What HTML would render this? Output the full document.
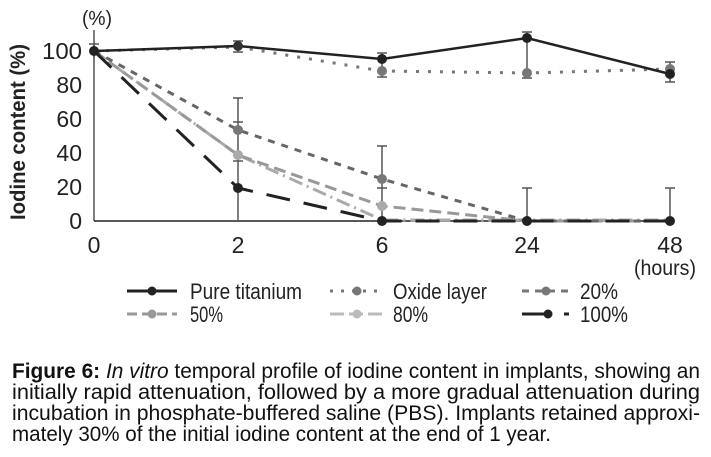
<!DOCTYPE html>
<html><head><meta charset="utf-8"><style>
html,body{margin:0;padding:0;background:#fff;}
svg{display:block;font-family:"Liberation Sans",Arial,sans-serif;}
</style></head><body>
<svg width="711" height="457" viewBox="0 0 711 457" xmlns="http://www.w3.org/2000/svg">
<rect width="711" height="457" fill="#fff"/>
<line x1="94" y1="30" x2="94" y2="221" stroke="#555" stroke-width="1.5"/>
<line x1="94" y1="221" x2="672" y2="221" stroke="#222" stroke-width="1.5"/>
<text x="97" y="25" font-size="20" text-anchor="middle" fill="#222" textLength="30" lengthAdjust="spacingAndGlyphs">(%)</text>
<g font-size="23" text-anchor="end" fill="#222">
<text x="82" y="59" textLength="40" lengthAdjust="spacingAndGlyphs">100</text><text x="82" y="93">80</text><text x="82" y="127">60</text>
<text x="82" y="161">40</text><text x="82" y="195">20</text><text x="82" y="229">0</text>
</g>
<text transform="translate(25,132) rotate(-90)" font-size="21" font-weight="bold" text-anchor="middle" fill="#222" textLength="176" lengthAdjust="spacingAndGlyphs">Iodine content (%)</text>
<g font-size="23" text-anchor="middle" fill="#222">
<text x="94" y="253">0</text><text x="238" y="253">2</text><text x="382" y="253">6</text>
<text x="527" y="253">24</text><text x="670" y="253">48</text>
<text x="665" y="275" font-size="21" textLength="62" lengthAdjust="spacingAndGlyphs">(hours)</text>
</g>
<g stroke="#555" stroke-width="1.5">
<line x1="238" y1="98" x2="238" y2="221"/><line x1="233" y1="98" x2="243" y2="98"/>
<line x1="233" y1="122" x2="243" y2="122"/><line x1="233" y1="161" x2="243" y2="161"/>
<line x1="382" y1="146" x2="382" y2="221"/><line x1="377" y1="146" x2="387" y2="146"/><line x1="377" y1="188" x2="387" y2="188"/>
<line x1="527" y1="188" x2="527" y2="221"/><line x1="522" y1="188" x2="532" y2="188"/>
<line x1="670" y1="188" x2="670" y2="221"/><line x1="665" y1="188" x2="675" y2="188"/>
<line x1="94" y1="44" x2="94" y2="58"/><line x1="89" y1="44" x2="99" y2="44"/>
<line x1="238" y1="41" x2="238" y2="52"/><line x1="233" y1="41" x2="243" y2="41"/><line x1="233" y1="52" x2="243" y2="52"/>
<line x1="382" y1="53" x2="382" y2="77"/><line x1="377" y1="53" x2="387" y2="53"/><line x1="377" y1="77" x2="387" y2="77"/>
<line x1="527" y1="32" x2="527" y2="78"/><line x1="522" y1="32" x2="532" y2="32"/><line x1="522" y1="78" x2="532" y2="78"/>
<line x1="670" y1="62" x2="670" y2="82"/><line x1="665" y1="62" x2="675" y2="62"/><line x1="665" y1="82" x2="675" y2="82"/>
</g>
<polyline points="94,51 238,155 382,220 527,220 670,220" fill="none" stroke="#aaa" stroke-width="3" stroke-dasharray="14,5,2,5"/>
<polyline points="94,51 238,155 382,206 527,221 670,221" fill="none" stroke="#999" stroke-width="3" stroke-dasharray="12,6"/>
<polyline points="94,51 238,130 382,179 527,221 670,221" fill="none" stroke="#666" stroke-width="3" stroke-dasharray="7,7"/>
<polyline points="94,51 238,188 382,221 527,221 670,221" fill="none" stroke="#222" stroke-width="3" stroke-dasharray="24,14"/>
<polyline points="94,51 238,47 382,71 527,73 670,69" fill="none" stroke="#777" stroke-width="3" stroke-dasharray="3,9"/>
<polyline points="94,51 238,46 382,59 527,38 670,74" fill="none" stroke="#222" stroke-width="2.5"/>
<g>
<circle cx="238" cy="155" r="5" fill="#aaa"/><circle cx="382" cy="206" r="5" fill="#aaa"/>
<circle cx="238" cy="130" r="5" fill="#777"/><circle cx="382" cy="179" r="5" fill="#777"/>
<circle cx="382" cy="71" r="5" fill="#777"/><circle cx="527" cy="73" r="5" fill="#777"/><circle cx="670" cy="69" r="5" fill="#777"/>
<circle cx="238" cy="188" r="5" fill="#222"/>
<circle cx="382" cy="221" r="5" fill="#222"/><circle cx="527" cy="221" r="5" fill="#222"/><circle cx="670" cy="221" r="5" fill="#222"/>
<circle cx="94" cy="51" r="5" fill="#222"/><circle cx="238" cy="46" r="5" fill="#333"/>
<circle cx="382" cy="59" r="5" fill="#222"/><circle cx="527" cy="38" r="5" fill="#222"/><circle cx="670" cy="74" r="5" fill="#222"/>
</g>
<g font-size="22" fill="#222">
<line x1="127" y1="291" x2="177" y2="291" stroke="#222" stroke-width="3"/><circle cx="152" cy="291" r="4.5" fill="#222"/>
<text x="190" y="299" textLength="112" lengthAdjust="spacingAndGlyphs">Pure titanium</text>
<line x1="330" y1="291" x2="385" y2="291" stroke="#777" stroke-width="3" stroke-dasharray="3,8"/><circle cx="357" cy="291" r="4.5" fill="#777"/>
<text x="393" y="299" textLength="94" lengthAdjust="spacingAndGlyphs">Oxide layer</text>
<line x1="522" y1="291" x2="568" y2="291" stroke="#777" stroke-width="3" stroke-dasharray="7,6"/><circle cx="546" cy="291" r="4.5" fill="#777"/>
<text x="580" y="299" textLength="38" lengthAdjust="spacingAndGlyphs">20%</text>
<line x1="127" y1="314" x2="177" y2="314" stroke="#999" stroke-width="3" stroke-dasharray="10,5"/><circle cx="152" cy="314" r="4.5" fill="#999"/>
<text x="190" y="322" textLength="33" lengthAdjust="spacingAndGlyphs">50%</text>
<line x1="330" y1="314" x2="385" y2="314" stroke="#bbb" stroke-width="3" stroke-dasharray="14,5"/><circle cx="357" cy="314" r="4.5" fill="#bbb"/>
<text x="393" y="322" textLength="35" lengthAdjust="spacingAndGlyphs">80%</text>
<line x1="522" y1="314" x2="550" y2="314" stroke="#222" stroke-width="3"/><circle cx="548" cy="314" r="4.5" fill="#222"/>
<line x1="564" y1="314" x2="569" y2="314" stroke="#222" stroke-width="3"/>
<text x="580" y="322" textLength="48" lengthAdjust="spacingAndGlyphs">100%</text>
</g>
<g font-size="21" fill="#111">
<text x="12" y="378" textLength="688" lengthAdjust="spacingAndGlyphs"><tspan font-weight="bold">Figure 6:</tspan> <tspan font-style="italic">In vitro</tspan> temporal profile of iodine content in implants, showing an</text>
<text x="12" y="399" textLength="688" lengthAdjust="spacingAndGlyphs">initially rapid attenuation, followed by a more gradual attenuation during</text>
<text x="12" y="420" textLength="688" lengthAdjust="spacingAndGlyphs">incubation in phosphate-buffered saline (PBS). Implants retained approxi-</text>
<text x="12" y="441" textLength="539" lengthAdjust="spacingAndGlyphs">mately 30% of the initial iodine content at the end of 1 year.</text>
</g>
</svg>
</body></html>
